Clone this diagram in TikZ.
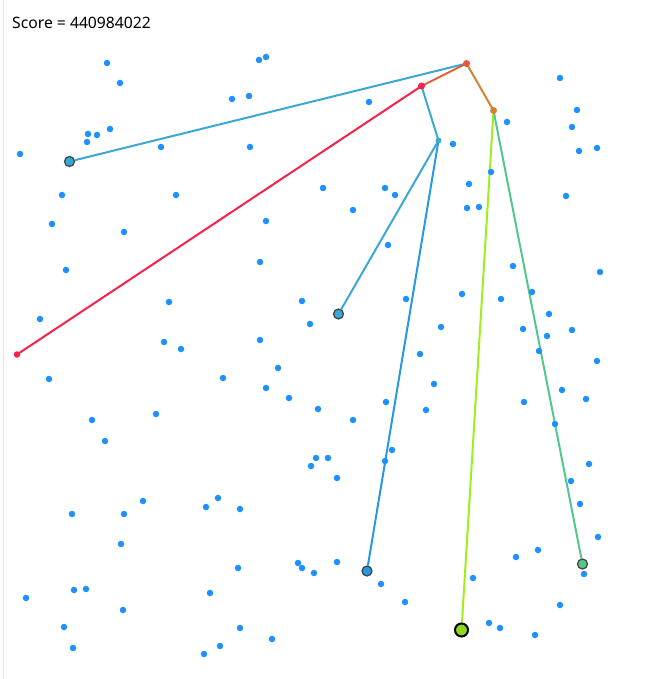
\documentclass[tikz,border=0pt]{standalone}
\usepackage{fontspec}
\setmainfont{Noto Sans}
\usepackage{xcolor}
\usepackage{tikz}
\usetikzlibrary{backgrounds}

\definecolor{dotblue}{RGB}{30,144,255}
\definecolor{edgecyan}{RGB}{58,168,214}
\definecolor{edgeorange}{RGB}{224,92,58}
\definecolor{edgered}{RGB}{245,35,75}
\definecolor{edgeteal}{RGB}{60,172,205}
\definecolor{edgeblue}{RGB}{40,152,228}
\definecolor{edgebrown}{RGB}{210,130,50}
\definecolor{edgelime}{RGB}{160,238,30}
\definecolor{edgegreen}{RGB}{82,200,140}

\begin{document}
\begin{tikzpicture}[x=1pt, y=-1pt,
    dot/.style={circle, fill=dotblue, inner sep=0pt, minimum size=6.5pt},
    joint/.style={circle, inner sep=0pt, minimum size=7pt},
    leaf/.style={circle, draw=black!75, line width=1.2pt, inner sep=0pt, minimum size=10pt},
    edge/.style={line width=2pt}]
    \useasboundingbox (0,0) rectangle (655,679);
    \draw [black!10, line width=1.5pt] (3.5,0) -- (3.5,679);

    \node [anchor=base west, inner sep=0pt, font=\fontsize{15.7}{18}\selectfont] (score) at (12,28.5) {Score = 440984022};

    % scattered points
    \foreach [count=\i] \x/\y in {107/63,120/83,259/60,266/57,232/99,249/96,88/134,97/135,110/129,87/142,
        20/154,161/147,250/147,62/195,176/195,323/188,52/224,124/232,266/221,66/270,260/262,169/302,
        302/301,310/324,40/319,164/342,181/349,260/340,369/102,560/78,577/110,572/127,579/151,597/148,
        507/122,453/144,491/172,469/184,385/188,395/195,353/210,467/208,479/207,566/196,388/245,513/266,
        600/272,406/299,462/294,501/299,532/292,549/314,523/329,547/336,572/330,441/327,420/354,539/351,
        597/361,49/379,223/378,278/368,266/388,289/398,318/409,156/414,92/420,105/441,316/458,328/458,
        311/466,143/501,72/514,124/514,206/507,218/498,240/509,121/544,238/568,298/563,302/568,314/573,
        26/598,74/590,86/589,210/593,123/610,64/627,73/648,240/628,272/639,220/646,204/654,434/384,
        562/390,586/399,386/402,524/402,426/410,353/420,555/424,392/450,385/461,337/478,589/464,571/481,
        580/504,598/537,516/557,538/550,337/562,381/584,405/602,473/578,584/574,560/605,489/623,500/628,535/635}
        \node [dot] (d\i) at (\x,\y) {};

    % tree
    \node [joint, fill=edgeorange] (root) at (466.5,63.5) {};
    \node [joint, fill=edgered] (split) at (421.5,86) {};
    \node [joint, fill=edgebrown] (fork) at (493.5,110.5) {};
    \node [joint, fill=edgeteal, minimum size=6pt] (mid) at (438.5,140.5) {};
    \node [leaf, fill=edgecyan] (west) at (69.5,161.5) {};
    \node [joint, fill=edgered, minimum size=6.5pt] (far) at (17,354.5) {};
    \node [leaf, fill=edgecyan] (inner) at (338.5,314) {};
    \node [leaf, fill=edgeblue] (south) at (367,571) {};
    \node [leaf, draw=black, line width=2pt, minimum size=13pt, fill=edgelime!90!black] (goal) at (461.5,630) {};
    \node [leaf, fill=edgegreen] (east) at (582.5,564) {};

    \begin{scope}[on background layer]
        \draw [edge, edgecyan] (root.center) -- (west);
        \draw [edge, edgeorange] (root.center) -- (split.center);
        \draw [edge, edgered] (split.center) -- (far.center);
        \draw [edge, edgeteal] (split.center) -- (mid.center);
        \draw [edge, edgecyan] (mid.center) -- (inner);
        \draw [edge, edgeblue] (mid.center) -- (south);
        \draw [edge, edgebrown] (root.center) -- (fork.center);
        \draw [edge, edgelime] (fork.center) -- (goal);
        \draw [edge, edgegreen] (fork.center) -- (east);
    \end{scope}
\end{tikzpicture}
\end{document}
